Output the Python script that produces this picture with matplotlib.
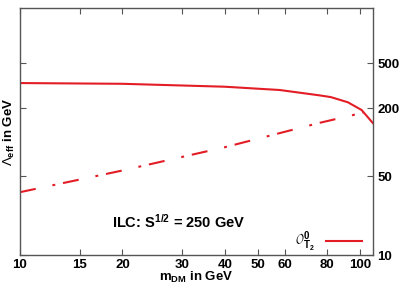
import numpy as np
import matplotlib
matplotlib.use("Agg")
import matplotlib.pyplot as plt
from matplotlib.ticker import FixedLocator, NullLocator, FixedFormatter

# solid curve (Lambda_eff vs m_DM)
m_solid = [10, 20, 40, 58, 76, 82, 92, 101, 109]
lam_solid = [333, 328, 309, 289, 259, 250, 225, 192, 147]

# dash-dot curve
m_dd = [10, 20, 40, 76, 102]
lam_dd = [36, 56, 90, 148, 182]

xticks = [10, 15, 20, 30, 40, 50, 60, 80, 100]
yticks = [10, 50, 200, 500]

red = '#e31d26'

plt.rcParams['font.family'] = ['Liberation Sans', 'DejaVu Sans']
plt.rcParams['mathtext.fontset'] = 'custom'
plt.rcParams['mathtext.rm'] = 'Liberation Sans'
plt.rcParams['mathtext.bf'] = 'Liberation Sans:bold'
plt.rcParams['mathtext.it'] = 'Liberation Sans:italic'

fig = plt.figure(figsize=(4.13, 2.89), dpi=100)
ax = fig.add_axes([0.0484, 0.1176, 0.903 - 0.0484, 0.972 - 0.1176])

ax.plot(m_solid, lam_solid, color=red, lw=1.5, label=r'$\mathcal{O}^{\bf 0}_{\bf T_2}$')
line, = ax.plot(m_dd, lam_dd, color=red, lw=1.5)
line.set_dashes([7.7, 8.2, 1.4, 3.8])

ax.set_xscale('log')
ax.set_yscale('log')
ax.set_xlim(10, 109)
ax.set_ylim(10, 1535)

ax.xaxis.set_major_locator(FixedLocator(xticks))
ax.xaxis.set_major_formatter(FixedFormatter([str(t) for t in xticks]))
ax.xaxis.set_minor_locator(NullLocator())
ax.yaxis.set_major_locator(FixedLocator(yticks))
ax.yaxis.set_major_formatter(FixedFormatter([str(t) for t in yticks]))
ax.yaxis.set_minor_locator(NullLocator())

ax.tick_params(direction='in', length=4, width=0.8, color='#555555',
               top=True, right=True, left=True, bottom=True,
               labelleft=False, labelright=True, labelsize=9.5, pad=3)
for lab in ax.get_xticklabels() + ax.get_yticklabels():
    lab.set_fontweight('bold')
for s in ax.spines.values():
    s.set_color('#555555')
    s.set_linewidth(1.0)

ax.set_xlabel(r'$\mathbf{m_{DM}}$ in GeV', fontsize=9.5, fontweight='bold', labelpad=-1)
ax.set_ylabel(r'$\Lambda_{\bf eff}$ in GeV', fontsize=9.5, fontweight='bold', labelpad=2)

ax.text(0.26, 0.11, r'ILC: S$^{\bf 1/2}$ = 250 GeV', transform=ax.transAxes,
        fontsize=10.5, fontweight='bold')

leg = ax.legend(loc='lower right', frameon=False, fontsize=10, handlelength=2.6,
                markerfirst=False, bbox_to_anchor=(0.985, -0.02), borderaxespad=0.0)

fig.savefig('out.png', dpi=100)
